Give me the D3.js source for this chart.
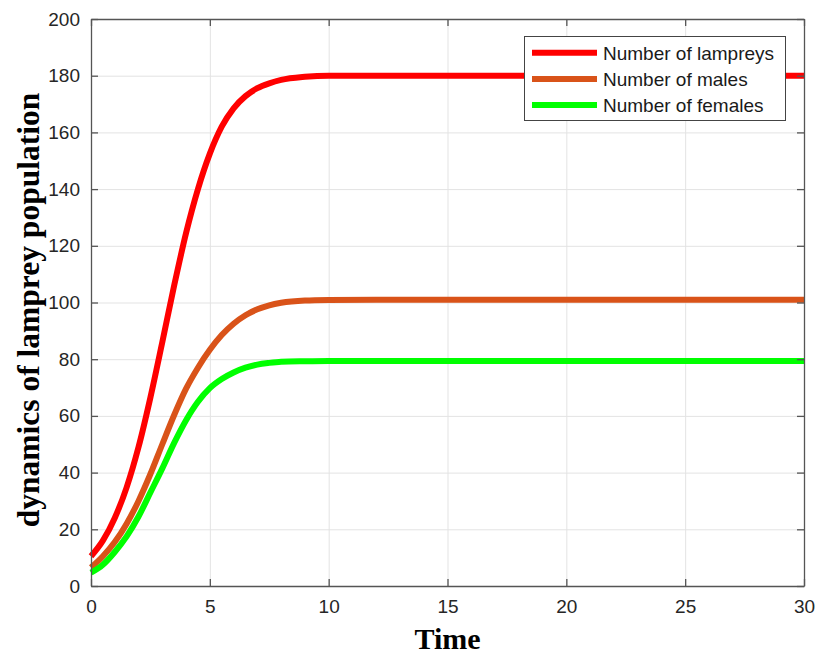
<!DOCTYPE html>
<html>
<head>
<meta charset="utf-8">
<script src="https://cdn.jsdelivr.net/npm/d3@7"></script>
<style>
  body { margin: 0; background: #fff; }
  svg { display: block; }
  .tick text { font-family: "Liberation Sans", Arial, sans-serif; font-size: 19px; fill: #262626; }
</style>
</head>
<body>
<svg width="818" height="654"></svg>
<script>
// time points
var times = [0, 0.5, 1, 1.5, 2, 2.5, 3, 3.5, 4, 4.5, 5, 5.5, 6, 6.5, 7, 7.5, 8, 9, 10, 12, 15, 20, 25, 30];
var lampreys = [10.5, 16, 24, 34.8, 49, 66.5, 86, 106, 124.5, 140, 152.5, 162, 168.5, 172.8, 175.6, 177.3, 178.5, 179.6, 180, 180, 180, 180, 180, 180];
var males = [6.5, 10.5, 15.5, 22, 30, 39.5, 50, 60.3, 69.6, 77, 83.3, 88.5, 92.5, 95.5, 97.6, 99, 99.9, 100.7, 100.9, 101, 101, 101, 101, 101];
var females = [4.7, 7.5, 12, 17.5, 24.5, 33, 41.5, 50.5, 58.5, 65, 69.8, 73, 75.3, 77, 78.1, 78.7, 79.1, 79.3, 79.4, 79.4, 79.4, 79.4, 79.4, 79.4];

var xTicks = [0, 5, 10, 15, 20, 25, 30];
var yTicks = [0, 20, 40, 60, 80, 100, 120, 140, 160, 180, 200];

var seriesNames = ["Number of lampreys", "Number of males", "Number of females"];
var seriesColors = ["#ff0000", "#d95319", "#00ff00"];
var seriesValues = [lampreys, males, females];

var svg = d3.select("svg");
var plot = {left: 91, top: 19, right: 804, bottom: 586};

var xScale = d3.scaleLinear().domain([0, 30]).range([plot.left, plot.right]);
var yScale = d3.scaleLinear().domain([0, 200]).range([plot.bottom, plot.top]);

// grid
svg.append("g")
  .attr("transform", "translate(0," + plot.bottom + ")")
  .call(d3.axisBottom(xScale).tickValues(xTicks).tickSize(-(plot.bottom - plot.top)).tickFormat(""))
  .call(function(g) {
    g.select(".domain").remove();
    g.selectAll("line").attr("stroke", "#e3e3e3").attr("stroke-width", 1);
  });
svg.append("g")
  .attr("transform", "translate(" + plot.left + ",0)")
  .call(d3.axisLeft(yScale).tickValues(yTicks).tickSize(-(plot.right - plot.left)).tickFormat(""))
  .call(function(g) {
    g.select(".domain").remove();
    g.selectAll("line").attr("stroke", "#e3e3e3").attr("stroke-width", 1);
  });

// lines
var line = d3.line()
  .x(function(d) { return xScale(d[0]); })
  .y(function(d) { return yScale(d[1]); })
  .curve(d3.curveMonotoneX);

seriesValues.forEach(function(vals, i) {
  var pts = times.map(function(t, j) { return [t, vals[j]]; });
  svg.append("path")
    .datum(pts)
    .attr("fill", "none")
    .attr("stroke", seriesColors[i])
    .attr("stroke-width", 6)
    .attr("stroke-linejoin", "round")
    .attr("d", line);
});

// axes (inward ticks, box)
var axisColor = "#555";
function styleAxis(g) {
  g.select(".domain").attr("stroke", axisColor).attr("stroke-width", 1.3);
  g.selectAll(".tick line").attr("stroke", axisColor).attr("stroke-width", 1.3);
}
svg.append("g")
  .attr("transform", "translate(0," + plot.bottom + ")")
  .call(d3.axisBottom(xScale).tickValues(xTicks).tickSizeInner(-7).tickSizeOuter(0).tickPadding(14))
  .call(styleAxis);
svg.append("g")
  .attr("transform", "translate(0," + plot.top + ")")
  .call(d3.axisTop(xScale).tickValues(xTicks).tickSizeInner(-7).tickSizeOuter(0).tickFormat(""))
  .call(styleAxis);
svg.append("g")
  .attr("transform", "translate(" + plot.left + ",0)")
  .call(d3.axisLeft(yScale).tickValues(yTicks).tickSizeInner(-7).tickSizeOuter(0).tickPadding(11))
  .call(styleAxis);
svg.append("g")
  .attr("transform", "translate(" + plot.right + ",0)")
  .call(d3.axisRight(yScale).tickValues(yTicks).tickSizeInner(-7).tickSizeOuter(0).tickFormat(""))
  .call(styleAxis);

// axis titles
svg.append("text")
  .attr("x", (plot.left + plot.right) / 2)
  .attr("y", 649)
  .attr("text-anchor", "middle")
  .style("font-family", "'Liberation Serif', 'Times New Roman', serif")
  .style("font-weight", "bold")
  .style("font-size", "30px")
  .attr("fill", "#000")
  .text("Time");

svg.append("text")
  .attr("transform", "translate(39,310) rotate(-90)")
  .attr("text-anchor", "middle")
  .style("font-family", "'Liberation Serif', 'Times New Roman', serif")
  .style("font-weight", "bold")
  .style("font-size", "31.5px")
  .attr("fill", "#000")
  .text("dynamics of lamprey population");

// legend
var legend = svg.append("g");
legend.append("rect")
  .attr("x", 524.5).attr("y", 36.5)
  .attr("width", 261).attr("height", 84)
  .attr("fill", "#fff")
  .attr("stroke", "#444")
  .attr("stroke-width", 1);
seriesNames.forEach(function(name, i) {
  var y = 52.7 + i * 26.2;
  legend.append("line")
    .attr("x1", 532).attr("x2", 597)
    .attr("y1", y).attr("y2", y)
    .attr("stroke", seriesColors[i])
    .attr("stroke-width", 6);
  legend.append("text")
    .attr("x", 603).attr("y", y)
    .attr("dy", "0.36em")
    .style("font-family", "'Liberation Sans', Arial, sans-serif")
    .style("font-size", "19px")
    .attr("fill", "#1a1a1a")
    .text(name);
});
</script>
</body>
</html>
